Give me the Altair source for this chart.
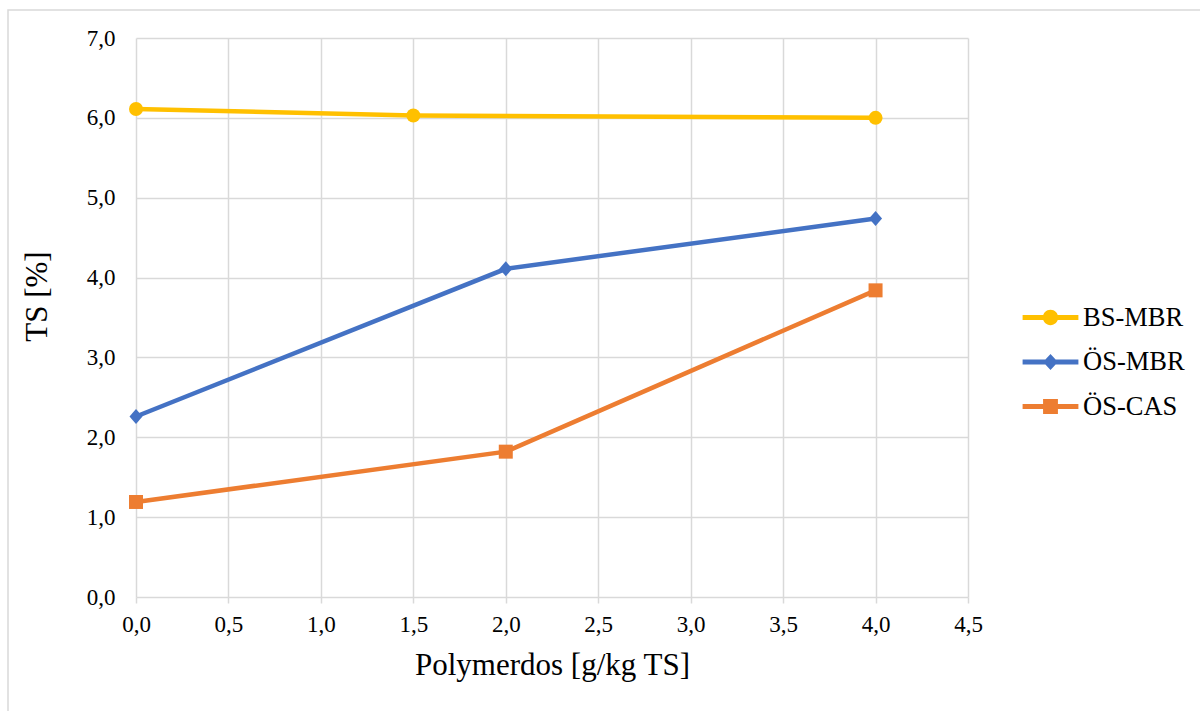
import altair as alt
import pandas as pd

series_names = ["BS-MBR", "ÖS-MBR", "ÖS-CAS"]
bs_mbr_x = [0.0, 1.5, 4.0]
bs_mbr_y = [6.11, 6.03, 6.00]
os_mbr_x = [0.0, 2.0, 4.0]
os_mbr_y = [2.26, 4.11, 4.74]
os_cas_x = [0.0, 2.0, 4.0]
os_cas_y = [1.19, 1.82, 3.84]

colors = ["#FFC000", "#4472C4", "#ED7D31"]
x_ticks = [0.0, 0.5, 1.0, 1.5, 2.0, 2.5, 3.0, 3.5, 4.0, 4.5]
y_ticks = [0.0, 1.0, 2.0, 3.0, 4.0, 5.0, 6.0, 7.0]

rows = []
for name, xs, ys in zip(series_names, [bs_mbr_x, os_mbr_x, os_cas_x], [bs_mbr_y, os_mbr_y, os_cas_y]):
    for xv, yv in zip(xs, ys):
        rows.append({"series": name, "dos": xv, "ts": yv})
df = pd.DataFrame(rows)

FONT = "Liberation Serif"

plot_shapes = [
    "circle",
    "M0,-1.07L0.93,0L0,1.07L-0.93,0Z",
    "square",
]
legend_shapes = [
    "M-1.24,-0.11H1.24V0.11H-1.24Z M0.34,0A0.34,0.34,0,1,1,-0.34,0A0.34,0.34,0,1,1,0.34,0Z",
    "M-1.24,-0.11H1.24V0.11H-1.24Z M0,-0.36L0.33,0L0,0.36L-0.33,0Z",
    "M-1.24,-0.11H1.24V0.11H-1.24Z M-0.33,-0.33H0.33V0.33H-0.33Z",
]

label_expr = "replace(format(datum.value, '.1f'), '.', ',')"

x_enc = alt.X(
    "dos:Q",
    scale=alt.Scale(domain=[0, 4.5], nice=False),
    axis=alt.Axis(
        values=x_ticks,
        labelExpr=label_expr,
        title="Polymerdos [g/kg TS]",
        ticks=True,
        tickSize=6,
        labelPadding=10,
        titlePadding=14,
        labelAlign="center",
    ),
)
y_enc = alt.Y(
    "ts:Q",
    scale=alt.Scale(domain=[0, 7], nice=False),
    axis=alt.Axis(
        values=y_ticks,
        labelExpr=label_expr,
        title="TS [%]",
        ticks=False,
        labelPadding=21,
        titlePadding=33,
        titleY=258,
    ),
)

color_plot = alt.Color(
    "series:N",
    scale=alt.Scale(domain=series_names, range=colors),
    legend=None,
)

lines = alt.Chart(df).mark_line(strokeWidth=4.5, clip=False).encode(
    x=x_enc, y=y_enc, color=color_plot, detail="series:N"
)

points = alt.Chart(df).mark_point(filled=True, size=196, opacity=1, strokeWidth=0).encode(
    x="dos:Q",
    y="ts:Q",
    color=color_plot,
    shape=alt.Shape("series:N", scale=alt.Scale(domain=series_names, range=plot_shapes), legend=None),
)

legend_props = dict(
    title=None,
    orient="none",
    legendX=892,
    legendY=257,
    padding=0,
    rowPadding=8.5,
    symbolSize=2025,
    symbolStrokeWidth=0,
    symbolOpacity=1,
    labelOffset=10,
    labelFont=FONT,
    labelFontSize=26.5,
    labelColor="#000000",
    labelLimit=300,
)

legend_layer = alt.Chart(df).mark_point(filled=True, opacity=0).encode(
    x="dos:Q",
    y="ts:Q",
    color=alt.Color(
        "series:N",
        scale=alt.Scale(domain=series_names, range=colors),
        legend=alt.Legend(**legend_props),
    ),
    shape=alt.Shape(
        "series:N",
        scale=alt.Scale(domain=series_names, range=legend_shapes),
        legend=alt.Legend(**legend_props),
    ),
)

frame = alt.Chart(pd.DataFrame({"k": [0]})).mark_rect(
    fill=None, stroke="#d9d9d9", strokeWidth=1.5, clip=False
).encode(
    x=alt.value(-128),
    x2=alt.value(1075),
    y=alt.value(-28),
    y2=alt.value(690),
)

chart = alt.layer(frame, lines, points, legend_layer).resolve_scale(
    color="independent", shape="independent"
).properties(
    width=832,
    height=559,
    autosize=alt.AutoSizeParams(type="none"),
    padding={"left": 136, "top": 38, "right": 232, "bottom": 114},
    background="#ffffff",
).configure(
    font=FONT
).configure_view(
    stroke=None
).configure_axis(
    labelFont=FONT,
    labelFontSize=23,
    labelColor="#000000",
    titleFont=FONT,
    titleFontSize=31,
    titleFontWeight="normal",
    titleColor="#000000",
    grid=True,
    gridColor="#d9d9d9",
    gridWidth=1.5,
    domain=False,
    tickColor="#d9d9d9",
    tickWidth=1.5,
).configure_legend(
    labelFont=FONT,
    labelFontSize=26.5,
    labelColor="#000000",
)

chart.save("out.html", embed_options={"renderer": "svg", "actions": False})
